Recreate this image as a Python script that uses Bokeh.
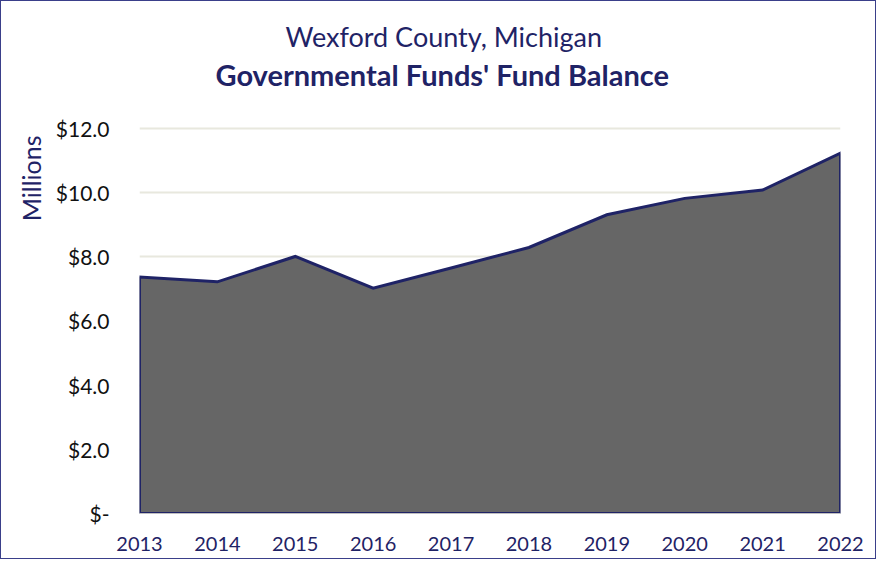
from bokeh.plotting import figure
from bokeh.models import FixedTicker, Title
from bokeh.embed import file_html
from bokeh.resources import INLINE

years = [2013, 2014, 2015, 2016, 2017, 2018, 2019, 2020, 2021, 2022]
balance = [7.37, 7.22, 8.01, 7.02, 7.65, 8.29, 9.31, 9.82, 10.08, 11.23]
y_ticks = [0, 2, 4, 6, 8, 10, 12]
y_tick_labels = ["$-", "$2.0", "$4.0", "$6.0", "$8.0", "$10.0", "$12.0"]
subtitle = "Wexford County, Michigan"
title = "Governmental Funds' Fund Balance"
y_label = "Millions"

NAVY = "#1f2366"
FONT = "Lato"

p = figure(width=876, height=559, output_backend="svg", toolbar_location=None,
           x_range=(years[0], years[-1]), y_range=(0, 12.06),
           min_border_left=138, min_border_right=37, min_border_top=125, min_border_bottom=47)
p.outline_line_color = None
p.background_fill_color = "white"
p.border_fill_color = "white"
p.styles = {"border": "1px solid #3a3f8a"}

# titles: p.title is outermost; added titles stack from the frame outward
p.title.text = subtitle
p.title.text_font = FONT
p.title.text_font_size = "27px"
p.title.text_font_style = "normal"
p.title.text_color = NAVY
p.title.align = "left"
p.title.offset = 146
p.title.standoff = 2
p.title.vertical_align = "bottom"
# spacer between bold title and frame
p.add_layout(Title(text=" ", text_font=FONT, text_font_size="10px", standoff=20), "above")
p.add_layout(Title(text=title, text_font=FONT, text_font_size="29px",
                   text_font_style="bold", text_color=NAVY, align="left",
                   offset=76, standoff=2, vertical_align="bottom"), "above")
p.add_layout(Title(text=y_label, text_font=FONT, text_font_size="25px",
                   text_font_style="normal", text_color=NAVY, align="right",
                   offset=9, standoff=14), "left")

# area
xs = [years[0]] + years + [years[-1]]
ys = [0] + balance + [0]
p.patch(xs, ys, fill_color="#666666", line_color=NAVY, line_width=3, line_join="miter")

# axes
p.xaxis.ticker = FixedTicker(ticks=years)
p.xaxis.major_label_text_font = FONT
p.xaxis.major_label_text_font_size = "20px"
p.xaxis.major_label_text_color = NAVY
p.xaxis.major_tick_line_color = None
p.xaxis.minor_tick_line_color = None
p.xaxis.axis_line_color = "#bfbfbf"
p.xaxis.major_label_standoff = 17

p.yaxis.ticker = FixedTicker(ticks=y_ticks)
p.yaxis.major_label_overrides = {t: l for t, l in zip(y_ticks, y_tick_labels)}
p.yaxis.major_label_text_font = FONT
p.yaxis.major_label_text_font_size = "21px"
p.yaxis.major_label_text_color = "#111111"
p.yaxis.major_tick_line_color = None
p.yaxis.minor_tick_line_color = None
p.yaxis.axis_line_color = None
p.yaxis.major_label_standoff = 24

p.xgrid.grid_line_color = None
p.ygrid.grid_line_color = "#e8e8de"
p.ygrid.grid_line_width = 2

open("out.html", "w").write(file_html(p, INLINE))
